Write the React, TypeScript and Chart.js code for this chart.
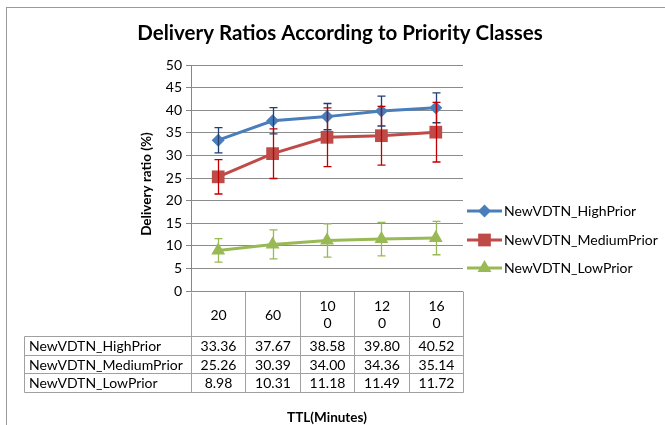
import React, { useEffect, useRef } from "react";
import { Chart, registerables } from "chart.js";

Chart.register(...registerables);

const categories = ["20", "60", "100", "120", "160"];
const headerLines = [["20"], ["60"], ["10", "0"], ["12", "0"], ["16", "0"]];
const seriesNames = ["NewVDTN_HighPrior", "NewVDTN_MediumPrior", "NewVDTN_LowPrior"];
const highValues = [33.36, 37.67, 38.58, 39.8, 40.52];
const mediumValues = [25.26, 30.39, 34.0, 34.36, 35.14];
const lowValues = [8.98, 10.31, 11.18, 11.49, 11.72];
const highErrors = [2.8, 2.9, 2.9, 3.3, 3.3];
const mediumErrors = [3.8, 5.5, 6.5, 6.5, 6.6];
const lowErrors = [2.6, 3.2, 3.7, 3.7, 3.7];
const yTicks = [0, 5, 10, 15, 20, 25, 30, 35, 40, 45, 50];

const titleText = "Delivery Ratios According to Priority Classes";
const yTitleText = "Delivery ratio (%)";
const xTitleText = "TTL(Minutes)";

const FONT = "Lato, 'Open Sans', sans-serif";

const lineColors = ["#4a7ebb", "#be4b48", "#98b954"];
const errColors = ["#1f3f73", "#c00000", "#98b954"];
const pointStyles = ["rectRot", "rect", "triangle"];
const pointRadii = [6.5, 9, 8];

function drawMarker(ctx: CanvasRenderingContext2D, style: string, r: number, x: number, y: number) {
  ctx.beginPath();
  if (style === "rectRot") {
    ctx.moveTo(x, y - r);
    ctx.lineTo(x + r, y);
    ctx.lineTo(x, y + r);
    ctx.lineTo(x - r, y);
  } else if (style === "rect") {
    const s = Math.SQRT1_2 * r;
    ctx.rect(x - s, y - s, 2 * s, 2 * s);
  } else {
    ctx.moveTo(x, y - r);
    ctx.lineTo(x + r * Math.sin(Math.PI / 3), y + r / 2);
    ctx.lineTo(x - r * Math.sin(Math.PI / 3), y + r / 2);
  }
  ctx.closePath();
  ctx.fill();
}

const customPlugin = {
  id: "excelDecor",
  beforeDraw(chart: any) {
    const ctx = chart.ctx;
    ctx.save();
    ctx.fillStyle = "#ffffff";
    ctx.fillRect(0, 0, chart.width, chart.height);
    ctx.strokeStyle = "#9a9a9a";
    ctx.lineWidth = 1;
    ctx.strokeRect(6.5, 7.5, chart.width + 20, chart.height + 20);
    ctx.restore();
  },
  afterDatasetsDraw(chart: any) {
    const ctx = chart.ctx;
    const yScale = chart.scales.y;
    const errs = [highErrors, mediumErrors, lowErrors];
    chart.data.datasets.forEach((ds: any, di: number) => {
      const meta = chart.getDatasetMeta(di);
      ctx.save();
      ctx.strokeStyle = errColors[di];
      ctx.lineWidth = 1.3;
      meta.data.forEach((pt: any, i: number) => {
        const v = ds.data[i];
        const e = errs[di][i];
        const x = Math.round(pt.x) + 0.5;
        const yt = yScale.getPixelForValue(v + e);
        const yb = yScale.getPixelForValue(v - e);
        ctx.beginPath();
        ctx.moveTo(x, yt);
        ctx.lineTo(x, yb);
        ctx.moveTo(x - 4, yt);
        ctx.lineTo(x + 4, yt);
        ctx.moveTo(x - 4, yb);
        ctx.lineTo(x + 4, yb);
        ctx.stroke();
      });
      ctx.restore();
    });
  },
  afterDraw(chart: any) {
    const ctx = chart.ctx;
    const area = chart.chartArea;
    const xScale = chart.scales.x;
    ctx.save();
    // Title
    ctx.fillStyle = "#000";
    ctx.font = `bold 20.5px ${FONT}`;
    ctx.textAlign = "center";
    ctx.textBaseline = "middle";
    ctx.fillText(titleText, 340, 33);

    // Y title
    ctx.save();
    ctx.translate(147, 184);
    ctx.rotate(-Math.PI / 2);
    ctx.font = `bold 13.5px ${FONT}`;
    ctx.fillText(yTitleText, 0, 0);
    ctx.restore();

    // Data table
    const n = categories.length;
    const colW = xScale.getPixelForValue(1) - xScale.getPixelForValue(0);
    const bounds: number[] = [];
    for (let i = 0; i <= n; i++) {
      bounds.push(Math.round(xScale.getPixelForValue(0) - colW / 2 + i * colW) + 0.5);
    }
    const top = Math.round(area.bottom) + 0.5;
    const rows = [336.5, 355.5, 373.5, 392.5];
    const tableLeft = 24.5;
    ctx.strokeStyle = "#a0a0a0";
    ctx.lineWidth = 1;
    ctx.beginPath();
    for (let i = 0; i <= n; i++) {
      ctx.moveTo(bounds[i], i === 0 ? top + 1 : top);
      ctx.lineTo(bounds[i], rows[3]);
    }
    ctx.moveTo(tableLeft, rows[0]);
    ctx.lineTo(tableLeft, rows[3]);
    rows.forEach((r) => {
      ctx.moveTo(tableLeft, r);
      ctx.lineTo(bounds[n], r);
    });
    ctx.stroke();

    ctx.font = `14px ${FONT}`;
    ctx.fillStyle = "#000";
    ctx.textAlign = "center";
    headerLines.forEach((lines, i) => {
      const cx = (bounds[i] + bounds[i + 1]) / 2;
      if (lines.length === 1) {
        ctx.fillText(lines[0], cx, 315);
      } else {
        ctx.fillText(lines[0], cx, 306.5);
        ctx.fillText(lines[1], cx, 323);
      }
    });
    const allVals = [highValues, mediumValues, lowValues];
    allVals.forEach((vals, r) => {
      const cy = (rows[r] + rows[r + 1]) / 2 + 0.5;
      ctx.textAlign = "left";
      ctx.fillText(seriesNames[r], 29, cy);
      ctx.textAlign = "center";
      vals.forEach((v, i) => {
        const cx = (bounds[i] + bounds[i + 1]) / 2;
        ctx.fillText(v.toFixed(2), cx, cy);
      });
    });

    // X title
    ctx.font = `bold 13.5px ${FONT}`;
    ctx.textAlign = "center";
    ctx.fillText(xTitleText, (area.left + area.right) / 2, 418);

    // Legend
    const legendY = [211, 240, 268];
    chart.data.datasets.forEach((ds: any, di: number) => {
      const y = legendY[di];
      ctx.strokeStyle = lineColors[di];
      ctx.lineWidth = 3;
      ctx.beginPath();
      ctx.moveTo(467, y);
      ctx.lineTo(502, y);
      ctx.stroke();
      ctx.fillStyle = lineColors[di];
      drawMarker(ctx, pointStyles[di], pointRadii[di], 484.5, y);
      ctx.fillStyle = "#000";
      ctx.font = `14px ${FONT}`;
      ctx.textAlign = "left";
      ctx.textBaseline = "middle";
      ctx.fillText(ds.label, 504, y + 0.5);
    });
    ctx.restore();
  },
};

export default function App() {
  const ref = useRef<HTMLCanvasElement>(null);
  useEffect(() => {
    document.body.style.margin = "0";
    const canvas = ref.current!;
    const valueSets = [highValues, mediumValues, lowValues];
    const chart = new Chart(canvas, {
      type: "line",
      data: {
        labels: categories,
        datasets: valueSets.map((vals, i) => ({
          label: seriesNames[i],
          data: vals,
          borderColor: lineColors[i],
          backgroundColor: lineColors[i],
          borderWidth: 3,
          pointStyle: pointStyles[i] as any,
          pointRadius: pointRadii[i],
          pointBorderWidth: 0,
          pointBackgroundColor: lineColors[i],
          tension: 0,
        })),
      },
      options: {
        responsive: false,
        animation: false,
        layout: { padding: { left: 0, top: 65, right: 202, bottom: 134 } },
        plugins: { legend: { display: false }, title: { display: false }, tooltip: { enabled: false } },
        scales: {
          x: { display: false, offset: true },
          y: {
            min: 0,
            max: 50,
            afterBuildTicks: (scale: any) => {
              scale.ticks = yTicks.map((v) => ({ value: v }));
            },
            afterFit: (scale: any) => {
              scale.width = 191;
            },
            ticks: { color: "#000", font: { family: FONT, size: 14 }, padding: 4 },
            grid: { color: "#8c8c8c", tickLength: 5, tickColor: "#868686" },
            border: { color: "#868686", width: 1 },
          },
        },
      },
      plugins: [customPlugin],
    });
    return () => chart.destroy();
  }, []);
  return (
    <div style={{ width: 665, height: 425 }}>
      <canvas ref={ref} width={665} height={425} style={{ display: "block" }} />
    </div>
  );
}
